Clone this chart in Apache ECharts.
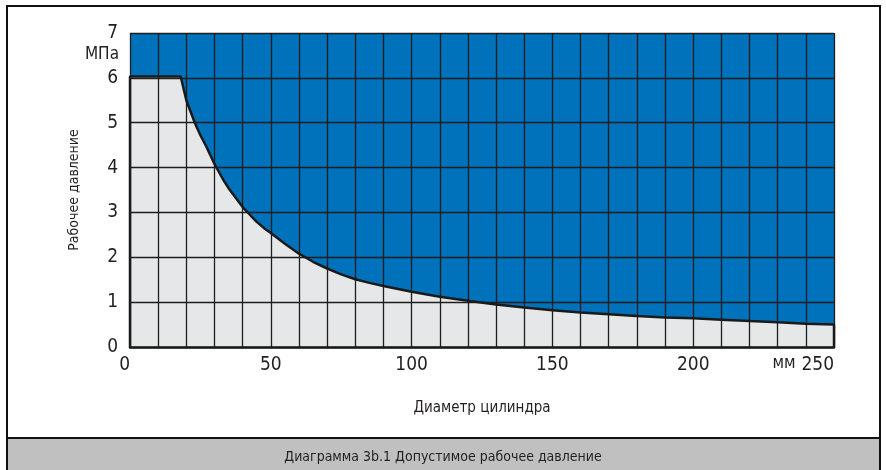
<!DOCTYPE html>
<html><head><meta charset="utf-8">
<script src="https://cdn.jsdelivr.net/npm/echarts@6/dist/echarts.min.js"></script>
<style>html,body{margin:0;padding:0;background:#fff}#c{width:886px;height:470px}</style>
</head><body><div id="c"></div>
<script>
// Data
const diameters = [0, 18, 20, 23, 25, 27, 30, 33, 35, 38, 40, 43, 45, 48, 50, 55, 60, 65, 70, 75, 80, 85, 90, 100, 110, 120, 130, 140, 150, 160, 170, 180, 190, 200, 210, 220, 230, 240, 250];
const pressures = [6.03, 6.03, 5.5, 5.0, 4.72, 4.48, 4.08, 3.74, 3.54, 3.29, 3.12, 2.92, 2.79, 2.63, 2.54, 2.3, 2.08, 1.9, 1.75, 1.62, 1.51, 1.43, 1.36, 1.23, 1.12, 1.03, 0.95, 0.88, 0.82, 0.77, 0.73, 0.69, 0.66, 0.64, 0.61, 0.58, 0.55, 0.52, 0.50];
const xTickLabels = [0, 50, 100, 150, 200, 250];
const yTickLabels = [0, 1, 2, 3, 4, 5, 6, 7];
const xName = 'Диаметр цилиндра';
const yName = 'Рабочее давление';
const yUnit = 'МПа';
const xUnit = 'мм';
const caption = 'Диаграмма 3b.1 Допустимое рабочее давление';

const FONT = "'Liberation Sans Narrow', 'DejaVu Sans Condensed', 'Roboto', sans-serif";
const TXT = '#231f20';
const curve = diameters.map((d, i) => [d, pressures[i]]);
const xMin = 0, xMax = 250;
const outline = [[xMin, 0]].concat(curve).concat([[xMax, 0]]);

const chart = echarts.init(document.getElementById('c'), null, {renderer: 'canvas'});
chart.setOption({
  animation: false,
  backgroundColor: '#fff',
  grid: {left: 130, right: 52, top: 33, bottom: 123, show: true, backgroundColor: '#0071bb', borderWidth: 0},
  xAxis: {
    type: 'value', min: xMin, max: xMax, interval: 10, z: 3,
    axisLine: {show: true, lineStyle: {color: '#1a1a1a', width: 2.5}},
    axisTick: {show: false},
    splitLine: {show: true, lineStyle: {color: '#1e1e1e', width: 1.3}},
    axisLabel: {
      color: TXT, fontFamily: FONT, fontSize: 19, margin: 9,
      alignMinLabel: 'right', alignMaxLabel: 'right',
      formatter: v => xTickLabels.indexOf(v) >= 0 ? String(v) : ''
    },
    name: xName, nameLocation: 'middle', nameGap: 54,
    nameTextStyle: {color: TXT, fontFamily: FONT, fontSize: 15}
  },
  yAxis: {
    type: 'value', min: 0, max: 7, interval: 1, z: 3,
    axisLine: {show: false},
    axisTick: {show: false},
    splitLine: {show: true, lineStyle: {color: '#1e1e1e', width: 1.3}},
    axisLabel: {color: TXT, fontFamily: FONT, fontSize: 19, margin: 12,
      formatter: v => yTickLabels.indexOf(v) >= 0 ? String(v) : ''},
    name: yName, nameLocation: 'middle', nameGap: 49, nameRotate: 90,
    nameTextStyle: {color: TXT, fontFamily: FONT, fontSize: 14}
  },
  series: [
    {type: 'line', data: curve, symbol: 'none', z: 2,
      lineStyle: {width: 0}, areaStyle: {color: '#e6e7e8', opacity: 1}},
    {type: 'line', data: outline, symbol: 'none', z: 5,
      lineStyle: {color: '#1a1a1a', width: 2.5}}
  ],
  graphic: [
    {type: 'rect', z: -1, shape: {x: 7, y: 6, width: 873, height: 470}, style: {fill: '#fff', stroke: '#111', lineWidth: 2}},
    {type: 'rect', z: 10, shape: {x: 7, y: 438, width: 873, height: 34}, style: {fill: '#c0c0c0', stroke: '#111', lineWidth: 2}},
    {type: 'text', z: 11, x: 443, y: 457, style: {text: caption, fill: TXT, font: '14px ' + FONT, align: 'center', verticalAlign: 'middle'}},
    {type: 'text', z: 11, x: 119, y: 55, style: {text: yUnit, fill: TXT, font: '17px ' + FONT, align: 'right', verticalAlign: 'middle'}},
    {type: 'text', z: 11, x: 784, y: 364, style: {text: xUnit, fill: TXT, font: '17px ' + FONT, align: 'center', verticalAlign: 'middle'}}
  ]
});
</script></body></html>
